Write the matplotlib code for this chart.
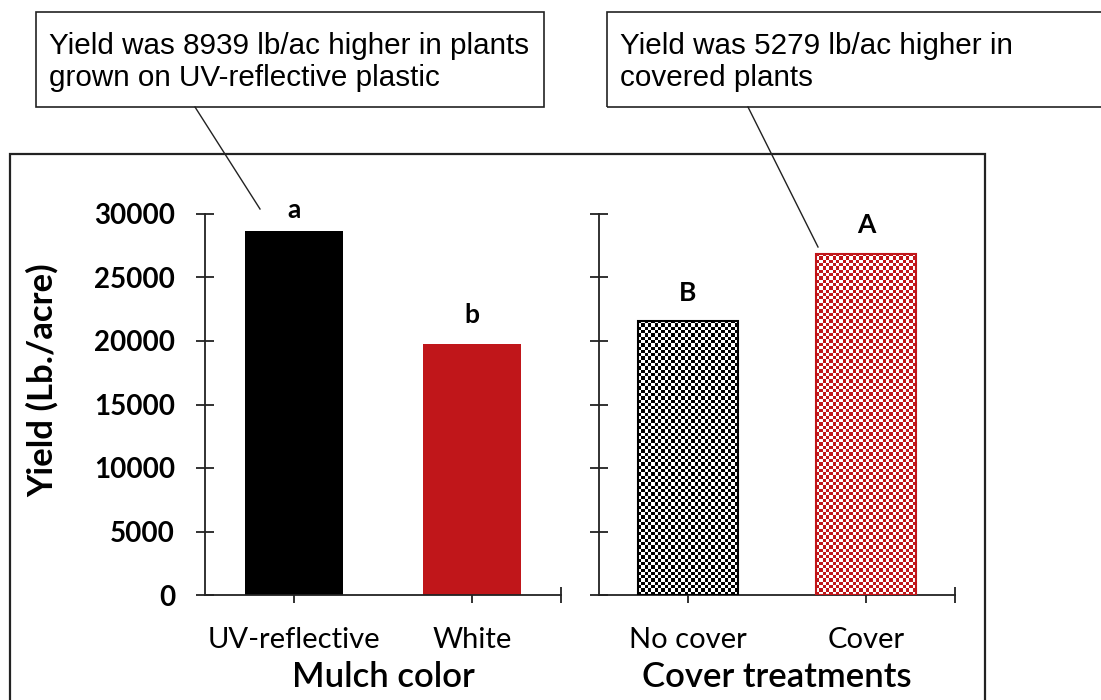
import matplotlib

matplotlib.use("Agg")
import matplotlib.pyplot as plt
import numpy as np
from matplotlib.colors import ListedColormap
from matplotlib.patches import Rectangle
from matplotlib.lines import Line2D

# ── data ───────────────────────────────────────────────────────────────────
mulch_cats = ["UV-reflective", "White"]
mulch_yield = [28680, 19741]
mulch_letters = ["a", "b"]

cover_cats = ["No cover", "Cover"]
cover_yield = [21592, 26871]
cover_letters = ["B", "A"]

y_ticks = [0, 5000, 10000, 15000, 20000, 25000, 30000]

note_mulch = "Yield was 8939 lb/ac higher in plants\ngrown on UV-reflective plastic"
note_cover = "Yield was 5279 lb/ac higher in\ncovered plants"

# ── style ──────────────────────────────────────────────────────────────────
RED = "#c0161a"
AX_FONT = "Lato"
NOTE_FONT = "Liberation Sans"
W, H = 1101, 700


def px(x, y):
    """pixel (from top-left) -> figure fraction"""
    return x / W, 1 - y / H


def add_checker(ax, bar, color, cell=3.3):
    x0, y0 = bar.get_x(), bar.get_y()
    x1, y1 = x0 + bar.get_width(), y0 + bar.get_height()
    (p0x, p0y), (p1x, p1y) = ax.transData.transform([(x0, y0), (x1, y1)])
    nx = max(1, int(round(abs(p1x - p0x) / cell)))
    ny = max(1, int(round(abs(p1y - p0y) / cell)))
    ii, jj = np.indices((ny, nx))
    arr = (ii + jj) % 2
    ax.imshow(arr, extent=(x0, x1, y0, y1), origin="lower", aspect="auto",
              interpolation="nearest", cmap=ListedColormap([color, "white"]),
              clip_path=bar, zorder=2)


def setup_axes(ax, cats, show_ylabels):
    ax.set_xlim(-0.5, 1.5)
    ax.set_ylim(0, 30000)
    for s in ("top", "right"):
        ax.spines[s].set_visible(False)
    for s in ("left", "bottom"):
        ax.spines[s].set_linewidth(1.3)
        ax.spines[s].set_color("#222")
    ax.set_yticks(y_ticks)
    ax.set_xticks([0, 1, 1.5])
    ax.set_xticklabels(cats + [""], fontfamily=AX_FONT, fontsize=21)
    ax.tick_params(axis="y", direction="inout", length=13, width=1.3,
                   color="#222", pad=15)
    ax.tick_params(axis="x", direction="inout", length=12, width=1.3,
                   color="#222", pad=17)
    if show_ylabels:
        ax.set_yticklabels([str(t) for t in y_ticks], fontfamily=AX_FONT,
                           fontsize=20, fontweight="bold")
    else:
        ax.set_yticklabels([])


fig = plt.figure(figsize=(W / 100, H / 100), dpi=100)

ax_l = fig.add_axes([205 / W, 1 - 595 / H, 356 / W, 381 / H])
ax_r = fig.add_axes([599 / W, 1 - 595 / H, 356 / W, 381 / H])
setup_axes(ax_l, mulch_cats, True)
setup_axes(ax_r, cover_cats, False)

# left panel: solid bars
bars_l = ax_l.bar(range(len(mulch_cats)), mulch_yield, width=0.55,
                  color=["black", RED], zorder=2)
# right panel: checkered bars
bars_r = ax_r.bar(range(len(cover_cats)), cover_yield, width=0.56,
                  facecolor="none", edgecolor=["black", RED], lw=1.5, zorder=3)
for b, c in zip(bars_r, ["black", RED]):
    add_checker(ax_r, b, c)
ax_r.set_xlim(-0.5, 1.5)
ax_r.set_ylim(0, 30000)

# significance letters
for ax, vals, letters, offs in ((ax_l, mulch_yield, mulch_letters, [9, 15]),
                                (ax_r, cover_yield, cover_letters, [14, 15])):
    for i, (v, lt) in enumerate(zip(vals, letters)):
        ax.annotate(lt, (i, v), xytext=(0, offs[i]), textcoords="offset points",
                    ha="center", va="baseline", fontsize=19,
                    fontweight="bold", fontfamily=AX_FONT)

ax_l.set_xlabel("Mulch color", fontfamily=AX_FONT, fontsize=25,
                fontweight="semibold", labelpad=6)
ax_r.set_xlabel("Cover treatments", fontfamily=AX_FONT, fontsize=25,
                fontweight="semibold", labelpad=6)

fig.text(*px(43, 380), "Yield (Lb./acre)", rotation=90, ha="center",
         va="center", fontfamily=AX_FONT, fontsize=25, fontweight="bold")

# outer chart frame
fx, fy = px(10, 154)
fig.add_artist(Rectangle((fx, -0.05), 975 / W, fy + 0.05,
                         transform=fig.transFigure, fill=False,
                         lw=1.6, ec="#222"))

# callout boxes and leader lines
for (bx0, bx1), txt, (l0, l1) in (
    ((36, 544), note_mulch, ((195, 107), (260, 209))),
    ((607, 1115), note_cover, ((748, 107), (818, 247))),
):
    x0, y0 = px(bx0, 107)
    fig.add_artist(Rectangle((x0, y0), (bx1 - bx0) / W, 95 / H,
                             transform=fig.transFigure, fill=False,
                             lw=1.2, ec="#222"))
    fig.text(*px(bx0 + 13, 62), txt, ha="left", va="center",
             fontfamily=NOTE_FONT, fontsize=21.3, linespacing=1.2)
    (ax0, ay0), (ax1, ay1) = px(*l0), px(*l1)
    fig.add_artist(Line2D([ax0, ax1], [ay0, ay1], transform=fig.transFigure,
                          lw=1.0, color="#222"))

fig.savefig("out.png", dpi=100, facecolor="white")
